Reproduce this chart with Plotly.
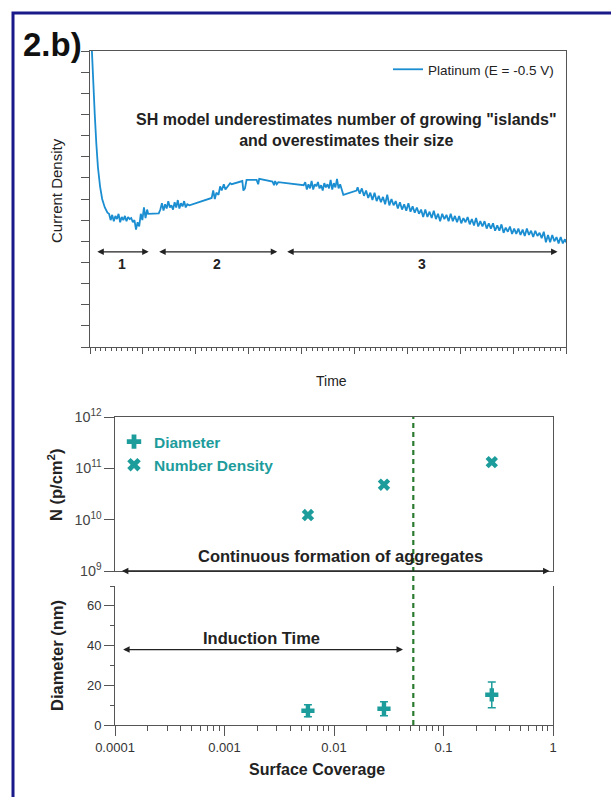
import math
import plotly.graph_objects as go

# ---------------- data ----------------
# top panel: chronoamperometric transient (arbitrary units)
time = [0, 0.3, 0.6, 0.9, 1.2, 1.5, 1.9, 2.3, 2.8, 3.3,
        3.6, 3.9, 4.2, 4.5, 4.8, 5.1, 5.4, 5.7, 6.0, 6.3, 6.6, 6.9, 7.2, 7.5, 7.8, 8.1, 8.4,
        8.7, 9.0, 9.3, 9.6, 9.9, 10.2, 10.5, 10.8, 11.0, 13.0,
        13.3, 13.6, 13.9, 14.2, 14.5, 14.8, 15.1, 15.4, 15.7, 16.0, 16.3, 16.6, 16.9, 17.2, 17.5, 17.8, 18.1, 18.4, 18.8,
        23.0, 23.3, 23.6, 23.9, 24.3, 24.6, 24.9, 25.3, 25.6, 26.0, 26.5, 26.8,
        28.8, 29.0, 29.3, 29.6, 31.5, 31.8, 32.0, 34.5, 34.8, 35.0, 35.3, 35.6, 38.0, 40.4,
        40.7, 41.0, 41.3, 41.6, 41.9, 42.2, 42.5, 42.8, 43.1, 43.4, 43.7, 44.0, 44.3, 44.6, 44.9, 45.2,
        45.5, 45.8, 46.1, 46.4, 46.7, 47.0, 47.3, 47.6, 47.9, 50.4,
        50.6, 51.0, 51.4, 51.8, 52.2, 52.6, 53.0, 53.4, 53.8, 54.2, 54.6, 55.0, 55.4, 55.8, 56.2, 56.6,
        57.0, 57.4, 57.8, 58.2, 58.6, 59.0, 59.4, 59.8, 60.2, 60.6, 61.0, 61.4, 61.8, 62.2, 62.6, 63.0,
        63.4, 63.8, 64.2, 64.6, 65.0, 65.4, 65.8, 66.2, 66.6, 67.0, 67.4, 67.8, 68.2, 68.6, 69.0, 69.4,
        69.8, 70.2, 70.6, 71.0, 71.4, 71.8, 72.2, 72.6, 73.0, 73.4, 73.8, 74.2, 74.6, 75.0, 75.4, 75.8,
        76.2, 76.6, 77.0, 77.4, 77.8, 78.2, 78.6, 79.0, 79.4, 79.8, 80.2, 80.6, 81.0, 81.4, 81.8, 82.2,
        82.6, 83.0, 83.4, 83.8, 84.2, 84.6, 85.0, 85.4, 85.8, 86.2, 86.6, 87.0, 87.4, 87.8, 88.2, 88.6,
        89.0, 89.4, 89.8, 90.0]
current = [16, 14.2, 12.3, 11.0, 9.6, 8.5, 7.6, 7.0, 6.6, 6.35,
           6.3, 6.0, 6.25, 5.95, 6.2, 6.05, 6.3, 5.9, 6.15, 6.0, 6.2, 5.95, 6.15, 6.05, 6.1, 5.9, 6.0,
           5.55, 5.9, 5.7, 6.3, 6.0, 6.6, 6.1, 6.5, 6.3, 6.32,
           6.5, 6.8, 6.45, 6.75, 6.55, 6.9, 6.6, 6.7, 6.5, 6.85, 6.6, 6.95, 6.55, 6.8, 6.65, 6.9, 6.6, 6.75, 6.7,
           7.05, 7.4, 7.0, 7.3, 7.2, 7.6, 7.4, 7.7, 7.45, 7.6, 7.75, 7.7,
           7.85, 7.4, 7.5, 7.9, 7.9, 7.7, 7.95, 7.82, 7.65, 7.85, 7.7, 7.8, 7.72, 7.65,
           7.8, 7.45, 7.7, 7.5, 7.85, 7.45, 7.7, 7.6, 7.8, 7.5, 7.65, 7.4, 7.75, 7.55, 7.7, 7.5,
           7.9, 7.45, 7.75, 7.55, 7.95, 7.5, 7.7, 7.4, 7.2, 7.4,
           7.55, 7.25, 7.5, 7.15, 7.4, 7.05, 7.3, 6.95, 7.3, 6.9, 7.15, 6.85, 7.1, 6.75, 7.2, 6.7,
           7.0, 6.7, 6.9, 6.55, 6.85, 6.5, 6.75, 6.45, 6.8, 6.4, 6.65, 6.35, 6.6, 6.3, 6.5, 6.15,
           6.5, 6.15, 6.4, 6.1, 6.45, 6.05, 6.3, 5.95, 6.3, 6.05, 6.25, 5.95, 6.3, 5.95, 6.2, 5.9,
           6.2, 5.85, 6.1, 5.9, 6.15, 5.8, 6.05, 5.75, 6.1, 5.7, 5.95, 5.7, 5.95, 5.6, 5.85, 5.6,
           5.85, 5.5, 5.75, 5.5, 5.8, 5.4, 5.65, 5.45, 5.7, 5.35, 5.6, 5.35, 5.6, 5.3, 5.55, 5.25,
           5.6, 5.3, 5.5, 5.2, 5.5, 5.25, 5.4, 5.15, 5.45, 4.95, 5.3, 4.95, 5.3, 5.0, 5.2, 4.9,
           5.2, 4.9, 5.1, 4.95]

region_labels = ["1", "2", "3"]
region_start = [1.1, 12.8, 37.0]
region_end = [11.1, 35.4, 88.4]
region_arrow_level = 4.5

# lower panels
coverage = [0.00578, 0.0286, 0.276]
number_density = [1.23e10, 4.8e10, 1.32e11]
diameter = [7.2, 8.2, 15.2]
diameter_err = [3.0, 3.5, 6.5]

induction_end = 0.053          # end of induction time (dashed line)
induction_arrow_start = 0.000115
induction_arrow_end = 0.0427
induction_level = 38
aggregates_arrow_start = 0.000112
aggregates_arrow_end = 0.93

x_tickvals = [0.0001, 0.001, 0.01, 0.1, 1]
x_ticktext = ["0.0001", "0.001", "0.01", "0.1", "1"]
x_minor = [2e-4, 3e-4, 4e-4, 5e-4, 6e-4, 7e-4, 8e-4, 9e-4,
           2e-3, 3e-3, 4e-3, 5e-3, 6e-3, 7e-3, 8e-3, 9e-3,
           2e-2, 3e-2, 4e-2, 5e-2, 6e-2, 7e-2, 8e-2, 9e-2,
           0.2, 0.3, 0.4, 0.5, 0.6, 0.7, 0.8, 0.9]
coverage_range_log = [-4, 0]

# ---------------- styling ----------------
W, H = 611, 797
FONT = "Arial, 'Liberation Sans', Helvetica, sans-serif"
BLUE = "#1b8ed1"
TEAL = "#1d9c9c"
GREEN = "#2a7a30"
AX = "#555555"
TXT = "#222222"


def px_x(p):
    return p / W


def px_y(p):
    return 1 - p / H


fig = go.Figure()

fig.add_trace(go.Scatter(
    x=time, y=current, mode="lines", name="Platinum (E = -0.5 V)",
    line=dict(color=BLUE, width=1.8), xaxis="x", yaxis="y", legend="legend"))

fig.add_trace(go.Scatter(
    x=coverage, y=diameter, mode="markers", name="<b>Diameter</b>",
    marker=dict(symbol="cross", size=11, color=TEAL),
    error_y=dict(type="data", array=diameter_err, color=TEAL, thickness=1.5, width=4),
    xaxis="x3", yaxis="y3", legend="legend2"))

fig.add_trace(go.Scatter(
    x=coverage, y=number_density, mode="markers", name="<b>Number Density</b>",
    marker=dict(symbol="x", size=11, color=TEAL),
    xaxis="x2", yaxis="y2", legend="legend2"))

common = dict(showline=True, linecolor=AX, linewidth=1, showgrid=False, zeroline=False,
              automargin=False)

fig.update_layout(
    template="none",
    width=W, height=H,
    margin=dict(l=0, r=0, t=0, b=0, autoexpand=False),
    paper_bgcolor="white", plot_bgcolor="white",
    font=dict(family=FONT, color=TXT, size=11),
    xaxis=dict(domain=[px_x(90), px_x(566)], range=[0, 90], anchor="y",
               tickmode="linear", tick0=0, dtick=10, ticks="outside", ticklen=6,
               tickcolor=AX, showticklabels=False, mirror=True,
               minor=dict(ticks="outside", ticklen=3, dtick=1, tickcolor=AX, showgrid=False),
               **common),
    yaxis=dict(domain=[px_y(347), px_y(51)], range=[0, 14], anchor="x",
               tickmode="linear", tick0=0, dtick=1, ticks="outside", ticklen=8,
               tickcolor=AX, showticklabels=False, mirror=True, **common),
    xaxis2=dict(domain=[px_x(115), px_x(553)], type="log", range=coverage_range_log, anchor="y2",
                ticks="", showticklabels=False, mirror=True, **common),
    yaxis2=dict(domain=[px_y(571), px_y(417)], type="log", range=[9, 12], anchor="x2",
                dtick=1, exponentformat="power", ticks="outside", ticklen=10, tickcolor=AX,
                tickfont=dict(size=11.5, color="#444"), mirror=True, **common),
    xaxis3=dict(domain=[px_x(115), px_x(553)], type="log", range=coverage_range_log, anchor="y3",
                tickmode="array", tickvals=x_tickvals, ticktext=x_ticktext,
                ticks="outside", ticklen=10, tickcolor=AX,
                minor=dict(tickmode="array", tickvals=x_minor, ticks="outside", ticklen=5,
                           tickcolor=AX, showgrid=False),
                tickfont=dict(size=13, color="#333"), **common),
    yaxis3=dict(domain=[px_y(725), px_y(586)], range=[0, 70], anchor="x3",
                tickmode="linear", tick0=0, dtick=20, ticks="outside", ticklen=10, tickcolor=AX,
                minor=dict(ticks="outside", ticklen=4, dtick=10, tickcolor=AX, showgrid=False),
                tickfont=dict(size=13, color="#333"), mirror=True, **common),
    legend=dict(x=px_x(388), y=px_y(54), xanchor="left", yanchor="top",
                bgcolor="rgba(0,0,0,0)", font=dict(size=13.5, color=TXT)),
    legend2=dict(x=px_x(114), y=px_y(425), xanchor="left", yanchor="top",
                 bgcolor="rgba(0,0,0,0)", font=dict(size=15.5, color=TEAL),
                 tracegroupgap=0, itemsizing="constant"),
    showlegend=True,
)


def label(text, xp, yp, size, bold=False, angle=0, color=TXT, xanchor="center"):
    t = "<b>%s</b>" % text if bold else text
    return dict(text=t, x=px_x(xp), y=px_y(yp), xref="paper", yref="paper",
                xanchor=xanchor, yanchor="middle", showarrow=False, textangle=angle,
                font=dict(size=size, color=color))


def double_arrow(x0, x1, y, xref, yref):
    return dict(text="", x=x1, y=y, ax=x0, ay=y, xref=xref, yref=yref, axref=xref, ayref=yref,
                showarrow=True, arrowhead=2, startarrowhead=2, arrowside="end+start",
                arrowsize=1, arrowwidth=1.3, arrowcolor="#222", standoff=0, startstandoff=0)


annotations = [
    label("2.b)", 21, 44, 33, bold=True, color="#111", xanchor="left"),
    label("SH model underestimates number of growing \"islands\"<br>and overestimates their size",
          346, 130, 16, bold=True),
    # axis titles
    label("Current Density", 56, 191, 15, angle=-90),
    label("Time", 331, 381, 14),
    label("N (p/cm<sup>2</sup>)", 55, 485, 16.5, bold=True, angle=-90),
    label("Diameter (nm)", 57, 656, 16.5, bold=True, angle=-90),
    label("Surface Coverage", 317, 769, 16, bold=True),
    # panel annotations
    label("Continuous formation of aggregates", 340, 556, 16.5, bold=True),
    label("Induction Time", 261, 638, 16.5, bold=True),
]
for lab, s, e in zip(region_labels, region_start, region_end):
    annotations.append(double_arrow(s, e, region_arrow_level, "x", "y"))
    annotations.append(dict(text="<b>%s</b>" % lab, x=(s + e) / 2, y=region_arrow_level,
                            xref="x", yref="y", yshift=-12, showarrow=False,
                            font=dict(size=14, color=TXT)))
annotations.append(double_arrow(math.log10(aggregates_arrow_start), math.log10(aggregates_arrow_end),
                                9, "x2", "y2"))
annotations.append(double_arrow(math.log10(induction_arrow_start), math.log10(induction_arrow_end),
                                induction_level, "x3", "y3"))
fig.update_layout(annotations=annotations)

# dashed boundary position as a fraction of the shared log coverage axis
dash_frac = (math.log10(induction_end) - coverage_range_log[0]) / (coverage_range_log[1] - coverage_range_log[0])
shapes = [
    dict(type="line", xref="x3 domain", yref="paper", x0=dash_frac, x1=dash_frac,
         y0=px_y(725), y1=px_y(417), line=dict(color=GREEN, width=2.2, dash="5px,4px"), layer="above"),
    dict(type="rect", xref="paper", yref="paper", x0=px_x(13), x1=1.05, y0=-0.05, y1=px_y(13),
         line=dict(color="#1a1a8a", width=3)),
]
fig.update_layout(shapes=shapes)

fig.write_html("out.html")
